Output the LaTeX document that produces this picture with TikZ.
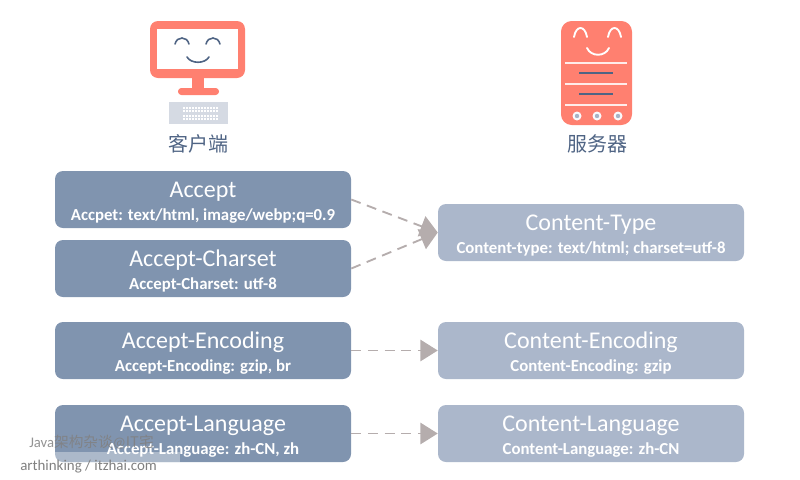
\documentclass[tikz,border=0pt]{standalone}
\usepackage{fontspec}
\setmainfont{Carlito}
\newfontfamily\cjk{Noto Sans CJK SC}
\usetikzlibrary{arrows.meta}
\definecolor{reqblue}{HTML}{8094AF}
\definecolor{respblue}{HTML}{ABB7CB}
\definecolor{salmon}{HTML}{FF8070}
\definecolor{labelblue}{HTML}{4F6484}
\definecolor{arrowgray}{HTML}{B5ADAD}
\definecolor{keygray}{HTML}{D5DAE3}
\newcommand{\headtext}[2]{{\fontsize{18}{22}\selectfont\rule{0pt}{16.5pt}#1}\\[5.5pt]{\fontsize{12.6}{14}\selectfont\bfseries #2}}
\begin{document}
\begin{tikzpicture}[
        x=0.75pt, y=-0.75pt,
        reqbox/.style={rectangle, rounded corners=6pt, minimum width=222pt, minimum height=42.75pt, align=center, fill=reqblue, text=white, inner sep=0pt},
        respbox/.style={reqbox, minimum width=229.5pt, fill=respblue},
        arrow/.style={dashed, dash pattern=on 7.5pt off 5pt, line width=1.4pt, color=arrowgray, -{Triangle[length=13pt, width=16pt]}},
        iconlabel/.style={font=\cjk\fontsize{15}{18}\selectfont, text=labelblue},
        face/.style={line width=1.2pt, line cap=round}
    ]
    \useasboundingbox (0,0) rectangle (800,479);

    % Client icon
    \fill[salmon, rounded corners=6pt] (150,21) rectangle (245,78);
    \fill[white] (157,29) rectangle (238,69);
    \fill[salmon] (192,78) rectangle (204,90);
    \fill[salmon, rounded corners=2.5pt] (178,88) rectangle (219,95);
    \draw[face, labelblue] (175,44) .. controls (177,36) and (187,36) .. (189,44);
    \draw[face, labelblue] (206,44) .. controls (208,36) and (218,36) .. (220,44);
    \draw[face, labelblue] (187,57) .. controls (191,64) and (205,64) .. (209,57);
    \fill[keygray] (169,102) rectangle (228,124);
    \foreach \y in {107,110,115,118}
        \foreach \x in {183,186,...,216}
            \fill[white] (\x,\y) rectangle +(2.4,2.4);

    \node[iconlabel] (client) at (198,144) {客户端};

    % Server icon
    \fill[salmon, rounded corners=8pt] (561,21) rectangle (632,125);
    \draw[face, white, line width=1.4pt] (574,37) .. controls (576,25) and (585,25) .. (587,37);
    \draw[face, white, line width=1.4pt] (608,37) .. controls (610,25) and (619,25) .. (621,37);
    \draw[face, white, line width=1.4pt] (587,48) .. controls (591,57) and (605,57) .. (609,48);
    \foreach \y in {63,84,105}
        \draw[white!85!salmon, line width=1pt] (565,\y) -- (627,\y);
    \foreach \y in {73,94}
        \draw[labelblue, line width=0.9pt] (579,\y) -- (613,\y);
    \foreach \x in {577,597,618} {
        \fill[white!85!keygray] (\x,116) circle (4.5);
        \fill[reqblue!70!white] (\x,116) circle (2.2);
    }
    \node[iconlabel] (server) at (597,144) {服务器};

    % Request headers
    \node[reqbox] (accept) at (203,199.5) {\headtext{Accept}{Accpet: text/html, image/webp;q=0.9}};
    \node[reqbox] (charset) at (203,268.5) {\headtext{Accept-Charset}{Accept-Charset: utf-8}};
    \node[reqbox] (encoding) at (203,350.5) {\headtext{Accept-Encoding}{Accept-Encoding: gzip, br}};
    \node[reqbox] (language) at (203,433.5) {\headtext{Accept-Language}{Accept-Language: zh-CN, zh}};

    % Response headers
    \node[respbox] (ctype) at (591,232.5) {\headtext{Content-Type}{Content-type: text/html; charset=utf-8}};
    \node[respbox] (cencoding) at (591,350.5) {\headtext{Content-Encoding}{Content-Encoding: gzip}};
    \node[respbox] (clanguage) at (591,433.5) {\headtext{Content-Language}{Content-Language: zh-CN}};

    % Connections
    \draw[arrow] (accept.east) -- (ctype.west);
    \draw[arrow] (charset.east) -- (ctype.west);
    \draw[arrow] (encoding) -- (cencoding);
    \draw[arrow] (language) -- (clanguage);

    % Watermark
    \fill[white, opacity=0.35] (55,452) rectangle (180,462);
    \node[anchor=west, inner sep=0pt, text=gray, font=\fontsize{11}{13}\selectfont, opacity=0.85] (mark) at (29,442) {Java{\cjk 架构杂谈}@{\cjk IT宅}};
    \node[anchor=west, inner sep=0pt, text=gray, font=\fontsize{11.2}{13}\selectfont] (site) at (20,467) {arthinking / itzhai.com};
\end{tikzpicture}
\end{document}
